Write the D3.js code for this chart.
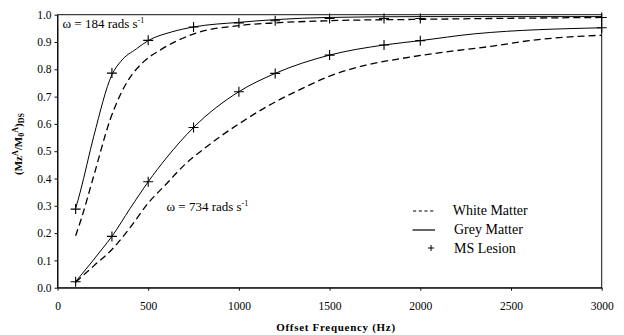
<!DOCTYPE html>
<html>
<head>
<meta charset="utf-8">
<script src="https://cdn.jsdelivr.net/npm/d3@7"></script>
<style>
  body { margin: 0; background: #fff; }
  text { font-family: "Liberation Serif", "Times New Roman", serif; fill: #000; }
  .axis path, .axis line { stroke: #111; }
</style>
</head>
<body>
<div class="D3"></div>
<script>
//chart values
var xTicks = [0, 500, 1000, 1500, 2000, 2500, 3000];
var yTicks = [0, 0.1, 0.2, 0.3, 0.4, 0.5, 0.6, 0.7, 0.8, 0.9, 1.0];

//omega = 184 rads/s
var gm184X = [100, 125, 200, 300, 350, 435, 500, 630, 750, 1000, 1200, 1500, 2000, 3000];
var gm184Y = [0.29, 0.35, 0.555, 0.78, 0.83, 0.875, 0.905, 0.937, 0.955, 0.972, 0.982, 0.99, 0.993, 0.993];
var wm184X = [100, 130, 200, 290, 345, 390, 475, 565, 760, 1000, 1200, 1500, 2000, 3000];
var wm184Y = [0.19, 0.25, 0.41, 0.615, 0.705, 0.76, 0.828, 0.87, 0.932, 0.96, 0.97, 0.978, 0.983, 0.99];

//omega = 734 rads/s
var gm734X = [100, 250, 300, 400, 500, 600, 750, 1000, 1200, 1500, 1800, 2000, 2300, 3000];
var gm734Y = [0.022, 0.145, 0.188, 0.29, 0.388, 0.475, 0.587, 0.718, 0.785, 0.852, 0.889, 0.905, 0.93, 0.952];
var wm734X = [100, 200, 300, 400, 500, 600, 700, 800, 900, 1000, 1150, 1350, 1500, 1700, 1900, 2100, 2400, 2600, 3000];
var wm734Y = [0.02, 0.08, 0.14, 0.22, 0.31, 0.38, 0.45, 0.505, 0.555, 0.60, 0.662, 0.73, 0.775, 0.815, 0.84, 0.86, 0.885, 0.905, 0.925];

//MS lesion points (crosses)
var lesionX = [100, 300, 500, 750, 1000, 1200, 1500, 1800, 2000, 3000];
var lesion184Y = [0.288, 0.786, 0.906, 0.955, 0.97, 0.978, 0.986, 0.986, 0.986, 0.99];
var lesion734Y = [0.022, 0.188, 0.388, 0.587, 0.718, 0.785, 0.852, 0.889, 0.905, 0.952];

var legendLabels = ["White Matter", "Grey Matter", "MS Lesion"];

//svg size and plot box
var svgWidth = 624;
var svgHeight = 335;
var plot = { left: 57.5, right: 601.7, top: 14.7, bottom: 287.7 };

var svg = d3.select(".D3")
  .append("svg")
  .attr("width", svgWidth)
  .attr("height", svgHeight);

var xScale = d3.scaleLinear().domain([0, 3000]).range([plot.left, plot.right]);
var yScale = d3.scaleLinear().domain([0, 1]).range([plot.bottom, plot.top]);

//frame round the plot
svg.append("rect")
  .attr("x", plot.left)
  .attr("y", plot.top)
  .attr("width", plot.right - plot.left)
  .attr("height", plot.bottom - plot.top)
  .attr("fill", "none")
  .attr("stroke", "#111")
  .attr("stroke-width", 1);

//axes
var xAxis = svg.append("g")
  .classed("axis", true)
  .attr("transform", `translate(0, ${plot.bottom})`)
  .call(d3.axisBottom(xScale).tickValues(xTicks).tickSize(3).tickPadding(11.5).tickSizeOuter(0).tickFormat(d3.format("d")));

var yAxis = svg.append("g")
  .classed("axis", true)
  .attr("transform", `translate(${plot.left}, 0)`)
  .call(d3.axisLeft(yScale).tickValues(yTicks).tickSize(3).tickPadding(3).tickSizeOuter(0).tickFormat(d3.format(".1f")));

svg.selectAll(".axis text")
  .attr("font-family", "Liberation Serif, serif")
  .style("font-size", "11.5px")
  .attr("fill", "#000");

//curves
function pairs(xs, ys) {
  return xs.map((x, i) => [x, ys[i]]);
}

var line = d3.line()
  .x(d => xScale(d[0]))
  .y(d => yScale(d[1]))
  .curve(d3.curveMonotoneX);

var curves = [
  { pts: pairs(wm184X, wm184Y), dash: "7,4", width: 1.3 },
  { pts: pairs(gm184X, gm184Y), dash: null, width: 1 },
  { pts: pairs(wm734X, wm734Y), dash: "7,4", width: 1.3 },
  { pts: pairs(gm734X, gm734Y), dash: null, width: 1 }
];

svg.selectAll(".curve")
  .data(curves)
  .enter()
  .append("path")
  .classed("curve", true)
  .attr("d", d => line(d.pts))
  .attr("fill", "none")
  .attr("stroke", "#000")
  .attr("stroke-width", d => d.width)
  .attr("stroke-dasharray", d => d.dash);

//crosses for MS lesion
var crossPts = pairs(lesionX, lesion184Y).concat(pairs(lesionX, lesion734Y));
var half = 5;

svg.selectAll(".cross")
  .data(crossPts)
  .enter()
  .append("path")
  .classed("cross", true)
  .attr("d", d => {
    var cx = xScale(d[0]), cy = yScale(d[1]);
    return `M${cx - half},${cy}H${cx + half}M${cx},${cy - half}V${cy + half}`;
  })
  .attr("stroke", "#000")
  .attr("stroke-width", 1.1)
  .attr("fill", "none");

//annotations
function omegaLabel(x, y, val) {
  var t = svg.append("text")
    .attr("x", x)
    .attr("y", y)
    .style("font-size", "13px");
  t.append("tspan").text("\u03C9 = " + val + " rads s");
  t.append("tspan").attr("dy", -5).style("font-size", "8px").text("-1");
}
omegaLabel(62.5, 27.7, 184);
omegaLabel(166.5, 211, 734);

//legend
var legend = svg.append("g");
var legendY = [215, 234, 253];

legend.append("line")
  .attr("x1", 413).attr("x2", 434)
  .attr("y1", legendY[0] - 4).attr("y2", legendY[0] - 4)
  .attr("stroke", "#000").attr("stroke-dasharray", "3.2,2.5");

legend.append("line")
  .attr("x1", 412.5).attr("x2", 435)
  .attr("y1", legendY[1] - 4).attr("y2", legendY[1] - 4)
  .attr("stroke", "#000").attr("stroke-width", 1.2);

legend.append("path")
  .attr("d", `M${431 - 3},${legendY[2] - 5}H${431 + 3}M431,${legendY[2] - 8}V${legendY[2] - 2}`)
  .attr("stroke", "#000");

legend.selectAll("text")
  .data(legendLabels)
  .enter()
  .append("text")
  .attr("x", (d, i) => i === 0 ? 452.7 : 454)
  .attr("y", (d, i) => legendY[i])
  .style("font-size", "14px")
  .text(d => d);

//axis titles
svg.append("text")
  .attr("x", 336)
  .attr("y", 331)
  .attr("text-anchor", "middle")
  .style("font-size", "11px")
  .style("font-weight", "bold")
  .style("letter-spacing", "0.7px")
  .text("Offset Frequency (Hz)");

var yTitle = svg.append("text")
  .attr("transform", "translate(22, 144) rotate(-90)")
  .attr("text-anchor", "middle")
  .style("font-size", "11px")
  .style("font-weight", "bold");
yTitle.append("tspan").text("(M");
yTitle.append("tspan").text("z");
yTitle.append("tspan").attr("dy", -4).style("font-size", "8px").text("A");
yTitle.append("tspan").attr("dy", 4).text("/M");
yTitle.append("tspan").attr("dy", 2).style("font-size", "8px").text("0");
yTitle.append("tspan").attr("dy", -6).style("font-size", "8px").text("A");
yTitle.append("tspan").attr("dy", 4).text(")");
yTitle.append("tspan").attr("dy", 2).style("font-size", "8px").text("DS");
</script>
</body>
</html>
